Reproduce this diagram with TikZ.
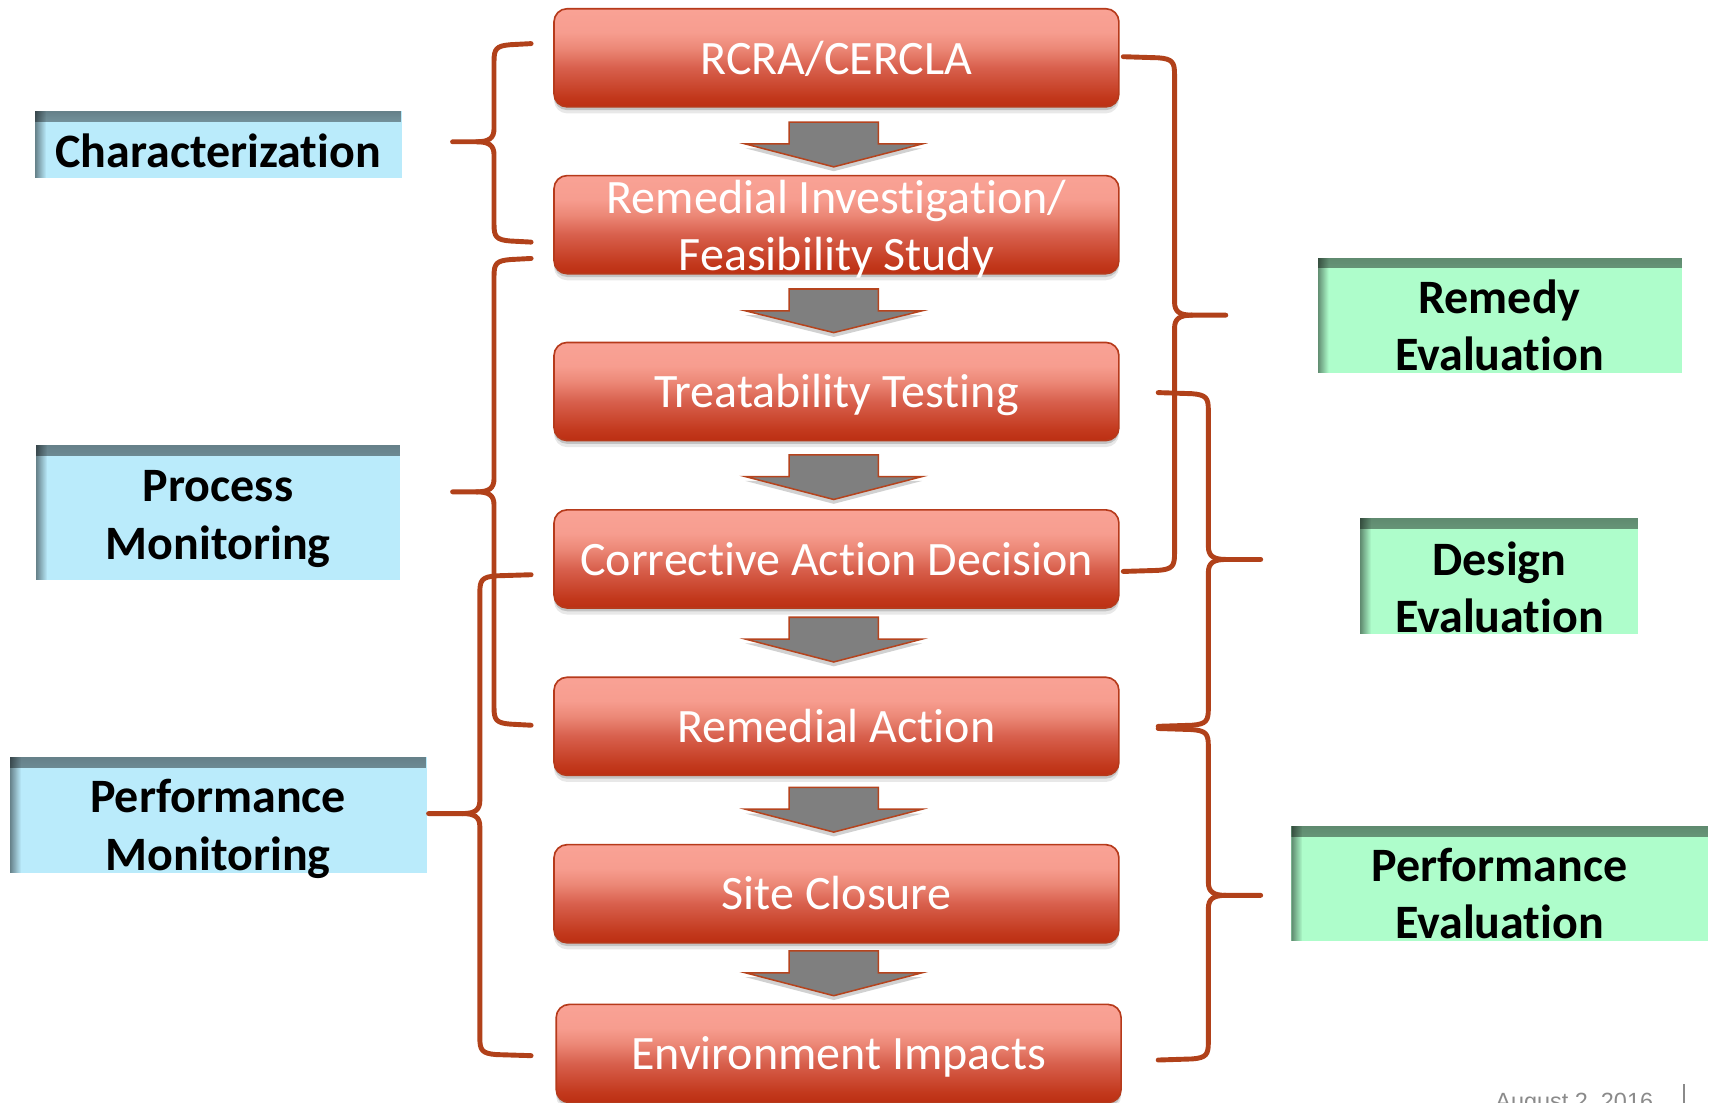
\documentclass[tikz,border=0pt]{standalone}
\usepackage{fontspec}
\setmainfont{Carlito}[Ligatures={NoCommon}]
\newfontfamily\footfont{Liberation Sans}
\usetikzlibrary{shadows,fadings,calc}

% palette
\definecolor{rd1}{HTML}{BC2F13}
\definecolor{rd2}{HTML}{C2381C}
\definecolor{rd3}{HTML}{D8604D}
\definecolor{rd4}{HTML}{EC8877}
\definecolor{rd5}{HTML}{F79D8F}
\definecolor{rd6}{HTML}{F9A295}
\definecolor{redline}{HTML}{B63A1B}
\definecolor{bracecol}{HTML}{B1411A}
\definecolor{arrowfill}{HTML}{7F7F7F}
\definecolor{arrowline}{HTML}{B5441E}
\definecolor{cyanfill}{HTML}{BAEBFB}
\definecolor{greenfill}{HTML}{AEFDCB}
\definecolor{footgray}{HTML}{8A8A8A}

% light salmon on top, deep red at the bottom
\pgfdeclareverticalshading{redgrad}{100bp}{color(0bp)=(rd1); color(25bp)=(rd1); color(30bp)=(rd2); color(45bp)=(rd3); color(55bp)=(rd4); color(63bp)=(rd5); color(75bp)=(rd6); color(100bp)=(rd6)}

\tikzfading[name=fadesouth, top color=transparent!0, bottom color=transparent!100]
\tikzfading[name=fadeeast, left color=transparent!0, right color=transparent!100]

\tikzset{
  stage/.style={rectangle, rounded corners=12pt, minimum width=518pt,
    minimum height=90pt, inner sep=0pt, draw=redline, line width=1.5pt,
    shading=redgrad, text=white, font=\fontsize{44}{52.5}\selectfont,
    text height=31pt, text depth=1.2pt,
    drop shadow={shadow xshift=0pt, shadow yshift=-3pt, opacity=.16, fill=black},
    drop shadow={shadow xshift=0pt, shadow yshift=-6pt, opacity=.09, fill=black}},
  stagetext/.style={text=white, font=\fontsize{44}{52.5}\selectfont,
    align=center, inner sep=0pt},
  tag/.style={rectangle, inner sep=0pt, anchor=north west,
    path picture={
      \fill[black, opacity=.45, path fading=fadesouth]
        (path picture bounding box.north west) rectangle
        ([yshift=-10pt]path picture bounding box.north east);
      \fill[black, opacity=.45, path fading=fadeeast]
        (path picture bounding box.north west) rectangle
        ([xshift=10pt]path picture bounding box.south west);}},
  tagtext/.style={font=\bfseries\fontsize{44}{52.5}\selectfont, align=center,
    inner sep=0pt, text=black},
  flowarrow/.style={fill=arrowfill, draw=arrowline, line width=1.4pt,
    line join=miter,
    drop shadow={shadow xshift=0pt, shadow yshift=-4pt, opacity=.18, fill=black}},
  brk/.style={draw=bracecol, line width=4.5pt, line cap=round, line join=round},
}

% block arrow pointing down: #1 top, #2 tip
\newcommand\blockarrow[2]{%
  \path[flowarrow] (764.5-41,#1) -- (764.5+41,#1) -- (764.5+41,#1+20)
    -- (764.5+81,#1+20) -- (764.5,#2) -- (764.5-81,#1+20)
    -- (764.5-41,#1+20) -- cycle;}

% curly bracket: #1 side (1 = ends point right, -1 = ends point left),
% #2 end x, #3 spine x, #4 tip x, #5 top y, #6 tip y, #7 bottom y
\newcommand\curly[7]{%
  \draw[brk] (#2,#5) -- ({#3+(#1)*15},{#5+1})
    .. controls ({#3+(#1)*2},{#5+2}) and (#3,{#5+5}) .. (#3,{#5+16})
    -- (#3,{#6-12}) .. controls (#3,{#6-3}) and ({#3-(#1)*5},#6) .. ({#3-(#1)*16},#6)
    -- (#4,#6);
  \draw[brk] ({#3-(#1)*16},#6) .. controls ({#3-(#1)*5},#6) and (#3,{#6+3}) .. (#3,{#6+12})
    -- (#3,{#7-16}) .. controls (#3,{#7-5}) and ({#3+(#1)*2},{#7-2}) .. ({#3+(#1)*15},{#7-1})
    -- (#2,#7);}

\begin{document}
\begin{tikzpicture}[x=1pt, y=-1pt]
  \useasboundingbox (0,0) rectangle (1568,1011);
  \clip (0,0) rectangle (1568,1011);

  % process stages
  \node[stage] (s1) at (767,53)    {RCRA/CERCLA};
  \node[stage] (s2) at (767,206)   {};
  \node[stagetext] (s2-t) at (767,210) {Remedial Investigation/\\Feasibility Study};
  \node[stage] (s3) at (767,359)   {Treatability Testing};
  \node[stage] (s4) at (767,512.5) {Corrective Action Decision};
  \node[stage] (s5) at (767,666)   {Remedial Action};
  \node[stage] (s6) at (767,819.5) {Site Closure};
  \node[stage] (s7) at (769,966)   {Environment Impacts};

  % arrows between stages
  \blockarrow{112}{153}
  \blockarrow{265}{305}
  \blockarrow{417}{458}
  \blockarrow{566}{607}
  \blockarrow{722}{763}
  \blockarrow{872}{913}

  % monitoring tags (left)
  \node[tag, fill=cyanfill, minimum width=336pt, minimum height=61pt]  (char) at (32,102) {};
  \node[tag, fill=cyanfill, minimum width=334pt, minimum height=124pt] (proc) at (33,408) {};
  \node[tag, fill=cyanfill, minimum width=382pt, minimum height=106pt] (pmon) at (9,694) {};
  \node[tagtext] (char-t) at (200,138)   {Characterization};
  \node[tagtext] (proc-t) at (200,476)   {Process\\Monitoring};
  \node[tagtext] (pmon-t) at (200,760)   {Performance\\Monitoring};

  % evaluation tags (right)
  \node[tag, fill=greenfill, minimum width=334pt, minimum height=106pt] (reme) at (1208,236) {};
  \node[tag, fill=greenfill, minimum width=255pt, minimum height=106pt] (desi) at (1247,475) {};
  \node[tag, fill=greenfill, minimum width=382pt, minimum height=106pt] (peva) at (1184,757) {};
  \node[tagtext] (reme-t) at (1375,298.5) {Remedy\\Evaluation};
  \node[tagtext] (desi-t) at (1375,538.5) {Design\\Evaluation};
  \node[tagtext] (peva-t) at (1375,819.5) {Performance\\Evaluation};

  % brackets on the left
  \curly{1}{487}{453}{415}{40}{130}{222}
  \curly{1}{487}{453}{415}{237}{451}{665}
  \curly{1}{487}{440}{393}{527}{746}{968}

  % brackets on the right
  \curly{-1}{1030}{1077}{1124}{52}{289}{524}
  \curly{-1}{1062}{1108}{1156}{360}{513}{666}
  \curly{-1}{1062}{1108}{1156}{668}{821}{972}

  % footer
  \node[anchor=base west, inner sep=0pt, text=footgray,
        font=\footfont\fontsize{21.5}{24}\selectfont] (date) at (1371,1017) {August 2, 2016};
  \draw[footgray, line width=1.6pt] (1544,994) -- (1544,1015);
\end{tikzpicture}
\end{document}
